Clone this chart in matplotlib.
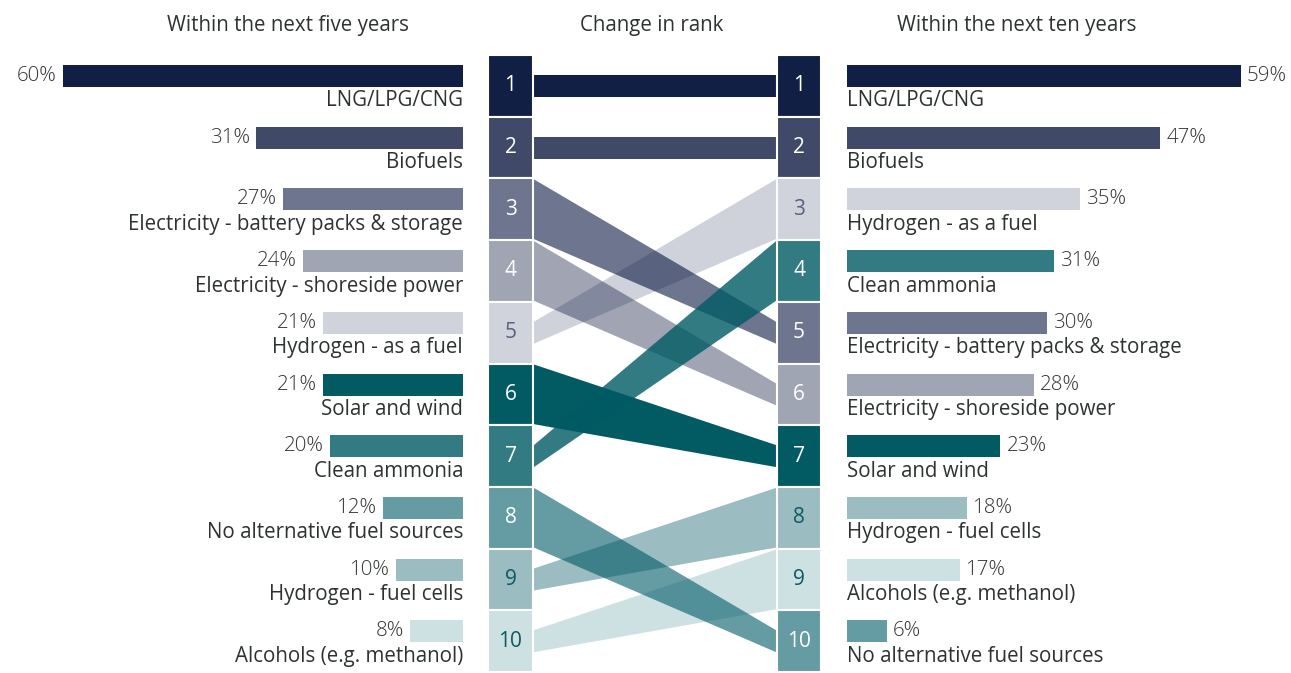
import matplotlib
matplotlib.use("Agg")
import matplotlib.pyplot as plt
from matplotlib.colors import to_rgb
from matplotlib.patches import Rectangle, Polygon

plt.rcParams["font.family"] = ["Open Sans", "DejaVu Sans"]

# --- data ---
five_labels = ["LNG/LPG/CNG", "Biofuels", "Electricity - battery packs & storage",
               "Electricity - shoreside power", "Hydrogen - as a fuel", "Solar and wind",
               "Clean ammonia", "No alternative fuel sources", "Hydrogen - fuel cells",
               "Alcohols (e.g. methanol)"]
five_vals = [60, 31, 27, 24, 21, 21, 20, 12, 10, 8]
ten_labels = ["LNG/LPG/CNG", "Biofuels", "Hydrogen - as a fuel", "Clean ammonia",
              "Electricity - battery packs & storage", "Electricity - shoreside power",
              "Solar and wind", "Hydrogen - fuel cells", "Alcohols (e.g. methanol)",
              "No alternative fuel sources"]
ten_vals = [59, 47, 35, 31, 30, 28, 23, 18, 17, 6]

# colour per fuel, and colour of the rank number drawn on it
fuel_color = {
    "LNG/LPG/CNG": "#121f44",
    "Biofuels": "#404a68",
    "Electricity - battery packs & storage": "#6e758f",
    "Electricity - shoreside power": "#a0a5b3",
    "Hydrogen - as a fuel": "#d0d3db",
    "Solar and wind": "#025a63",
    "Clean ammonia": "#327b82",
    "No alternative fuel sources": "#659ca3",
    "Hydrogen - fuel cells": "#9bbdc1",
    "Alcohols (e.g. methanol)": "#cde0e2",
}
num_color = {"Hydrogen - as a fuel": "#5a6080",
             "Hydrogen - fuel cells": "#0b5a63",
             "Alcohols (e.g. methanol)": "#0b5a63"}

TXT = "#2e3233"
FS = 14.8
W, H = 1291, 673
fig = plt.figure(figsize=(W / 100, H / 100), dpi=100)
ax = fig.add_axes([0, 0, 1, 1])
ax.set_xlim(0, W); ax.set_ylim(H, 0); ax.axis("off")

# layout (pixels)
pitch = 61.7
top = 55
bar_h = 22
scale = 6.67          # px per %
L_edge, R_edge = 463, 847
boxL0, boxL1 = 488, 533
boxR0, boxR1 = 777, 821
rib_h = 22

def box_c(i):
    return top + i * pitch + pitch / 2

def bar_c(i):
    return 76 + i * pitch

def multiply_rgba(c):
    # most transparent colour that still looks like c over white -> overlaps darken like a multiply
    rgb = to_rgb(c)
    a = 1 - min(rgb)
    return tuple((ch - (1 - a)) / a for ch in rgb) + (a,)

# left bars
ys = [bar_c(i) for i in range(10)]
ax.barh(ys, [-v * scale for v in five_vals], left=L_edge, height=bar_h,
        color=[fuel_color[l] for l in five_labels])
for y, v, lab in zip(ys, five_vals, five_labels):
    ax.text(L_edge - v * scale - 6, y, f"{v}%", ha="right", va="center",
            fontsize=FS, color="#333637", fontweight="light")
    ax.text(L_edge, y + 25, lab, ha="right", va="center", fontsize=FS, color=TXT)

# right bars
ax.barh(ys, [v * scale for v in ten_vals], left=R_edge, height=bar_h,
        color=[fuel_color[l] for l in ten_labels])
for y, v, lab in zip(ys, ten_vals, ten_labels):
    ax.text(R_edge + v * scale + 6, y, f"{v}%", ha="left", va="center",
            fontsize=FS, color="#333637", fontweight="light")
    ax.text(R_edge, y + 25, lab, ha="left", va="center", fontsize=FS, color=TXT)

# ribbons
for i, lab in enumerate(five_labels):
    j = ten_labels.index(lab)
    cl, cr = box_c(i), box_c(j)
    hl = pitch - 2 if i < j else rib_h
    hr = pitch - 2 if j < i else rib_h
    poly = Polygon([(boxL1 + 1, cl - hl / 2), (boxR0 - 1, cr - hr / 2),
                    (boxR0 - 1, cr + hr / 2), (boxL1 + 1, cl + hl / 2)],
                   closed=True, facecolor=multiply_rgba(fuel_color[lab]), edgecolor="none",
                   zorder=2)
    ax.add_patch(poly)

# rank boxes
for side, labels in (((boxL0, boxL1), five_labels), ((boxR0, boxR1), ten_labels)):
    for i, lab in enumerate(labels):
        ax.add_patch(Rectangle((side[0], top + i * pitch), side[1] - side[0], pitch,
                               facecolor=fuel_color[lab], edgecolor="white", lw=1.5, zorder=3))
        ax.text((side[0] + side[1]) / 2, box_c(i), str(i + 1), ha="center", va="center",
                fontsize=15, color=num_color.get(lab, "white"), zorder=4)

# titles
ax.text(288, 25, "Within the next five years", ha="center", va="center", fontsize=FS, color=TXT)
ax.text(652, 25, "Change in rank", ha="center", va="center", fontsize=FS, color=TXT)
ax.text(1017, 25, "Within the next ten years", ha="center", va="center", fontsize=FS, color=TXT)

fig.savefig("out.png", dpi=100)
